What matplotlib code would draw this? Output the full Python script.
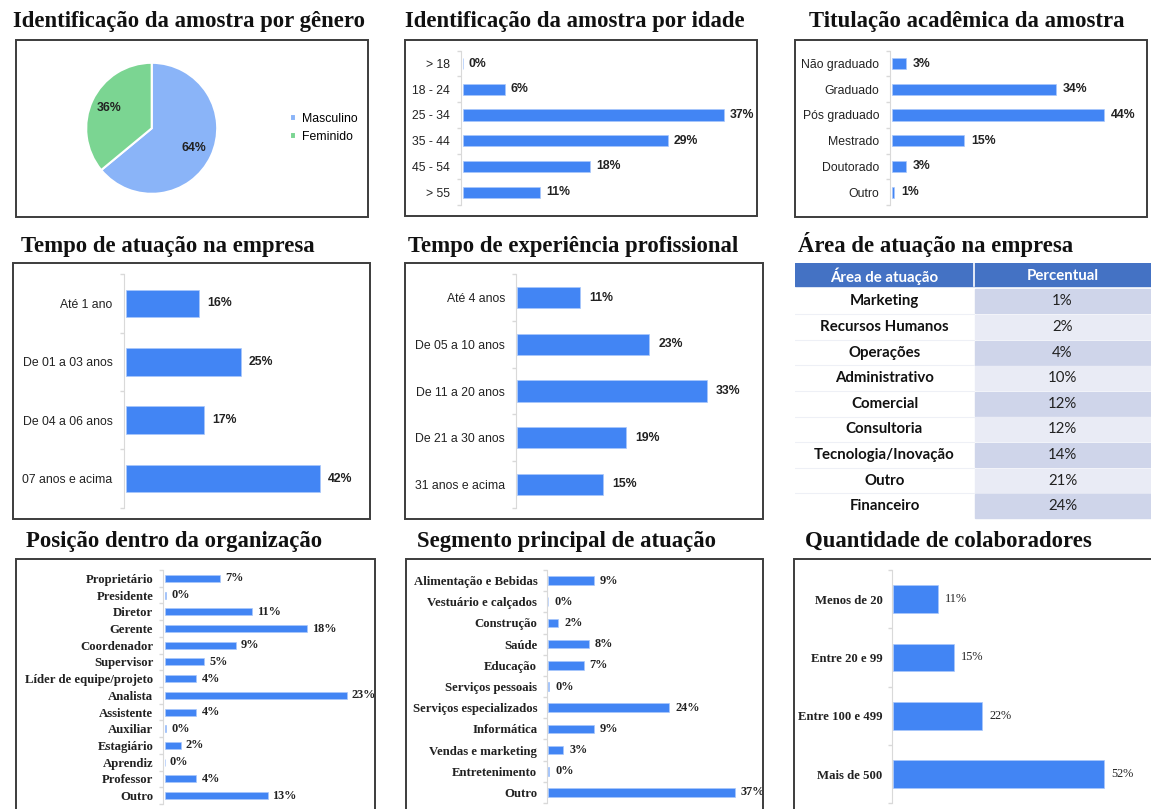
import matplotlib
matplotlib.use('Agg')
import matplotlib.pyplot as plt
from matplotlib.patches import Rectangle

W, H = 1151, 809
BLUE = '#4285f4'
GRID = '#d9d9d9'

# ---- data ----
genero_labels = ['Masculino', 'Feminido']
genero_vals = [64, 36]
genero_colors = ['#8ab4f8', '#7bd592']

idade_cats = ['> 18', '18 - 24', '25 - 34', '35 - 44', '45 - 54', '> 55']
idade_vals = [0, 6, 37, 29, 18, 11]

titulacao_cats = ['Não graduado', 'Graduado', 'Pós graduado', 'Mestrado', 'Doutorado', 'Outro']
titulacao_vals = [3, 34, 44, 15, 3, 0.6]

empresa_cats = ['Até 1 ano', 'De 01 a 03 anos', 'De 04 a 06 anos', '07 anos e acima']
empresa_vals = [16, 25, 17, 42]

experiencia_cats = ['Até 4 anos', 'De 05 a 10 anos', 'De 11 a 20 anos', 'De 21 a 30 anos', '31 anos e acima']
experiencia_vals = [11, 23, 33, 19, 15]

area_header = ['Área de atuação', 'Percentual']
area_cats = ['Marketing', 'Recursos Humanos', 'Operações', 'Administrativo', 'Comercial',
             'Consultoria', 'Tecnologia/Inovação', 'Outro', 'Financeiro']
area_vals = [1, 2, 4, 10, 12, 12, 14, 21, 24]

posicao_cats = ['Proprietário', 'Presidente', 'Diretor', 'Gerente', 'Coordenador', 'Supervisor',
                'Líder de equipe/projeto', 'Analista', 'Assistente', 'Auxiliar', 'Estagiário',
                'Aprendiz', 'Professor', 'Outro']
posicao_vals = [7, 0.2, 11, 18, 9, 5, 4, 23, 4, 0.2, 2, 0, 4, 13]

segmento_cats = ['Alimentação e Bebidas', 'Vestuário e calçados', 'Construção', 'Saúde', 'Educação',
                 'Serviços pessoais', 'Serviços especializados', 'Informática', 'Vendas e marketing',
                 'Entretenimento', 'Outro']
segmento_vals = [9, 0, 2, 8, 7, 0.2, 24, 9, 3, 0.2, 37]

colab_cats = ['Menos de 20', 'Entre 20 e 99', 'Entre 100 e 499', 'Mais de 500']
colab_vals = [11, 15, 22, 52]

titles = [
    (12.7, 27, 'Identificação da amostra por gênero'),
    (405, 27, 'Identificação da amostra por idade'),
    (809, 27, 'Titulação acadêmica da amostra'),
    (20.7, 251.7, 'Tempo de atuação na empresa'),
    (407.7, 251.7, 'Tempo de experiência profissional'),
    (798.3, 251.7, 'Área de atuação na empresa'),
    (26, 546.5, 'Posição dentro da organização'),
    (416.7, 546.5, 'Segmento principal de atuação'),
    (805, 546.5, 'Quantidade de colaboradores'),
]

frames = [(16, 40, 368, 217), (405, 40, 757, 216), (795, 40, 1147, 217),
          (13, 263, 370, 519), (405, 263, 763, 519),
          (16, 559, 375, 815), (406, 559, 763, 815), (794, 559, 1160, 815)]

SANS = 'Liberation Sans'
SERIF = 'Liberation Serif'
TABLE = 'Lato'

fig = plt.figure(figsize=(W / 100, H / 100), dpi=100)


def add_ax(x0, y0, x1, y1):
    return fig.add_axes([x0 / W, 1 - y1 / H, (x1 - x0) / W, (y1 - y0) / H])


def bar_panel(cats, vals, axis_x, y_top, y_bot, ppx, right, height,
              tick_font, val_font, label_gap, val_gap):
    ax = add_ax(axis_x, y_top, right, y_bot)
    n = len(cats)
    off = 1.5 / ppx
    ax.set_xlim(-off, (right - axis_x) / ppx - off)
    ax.set_ylim(n - 0.5, -0.5)
    ax.barh(range(n), vals, height=height, color=BLUE, edgecolor='#a9c8fb', linewidth=0.5)
    ax.set_yticks(range(n))
    ax.set_yticklabels(cats, **tick_font)
    ax.tick_params(axis='y', which='major', length=0, pad=label_gap * 0.72)
    ax.set_yticks([i - 0.5 for i in range(n + 1)], minor=True)
    ax.tick_params(axis='y', which='minor', length=3, color=GRID, width=1)
    ax.set_xticks([])
    for s in ['top', 'right', 'bottom']:
        ax.spines[s].set_visible(False)
    ax.spines['left'].set_color(GRID)
    ax.patch.set_alpha(0)
    for i, v in enumerate(vals):
        ax.text(v + val_gap / ppx, i, f'{v:.0f}%', va='center', ha='left', **val_font)
    return ax


# frames
for x0, y0, x1, y1 in frames:
    fig.add_artist(Rectangle((x0 / W, 1 - y1 / H), (x1 - x0) / W, (y1 - y0) / H,
                             transform=fig.transFigure, fill=False,
                             edgecolor='#3c3c3c', linewidth=1.4))

# titles
for x, y, t in titles:
    fig.text(x / W, 1 - y / H, t, family=SERIF, weight='bold', fontsize=16.4,
             ha='left', va='baseline', color='#111111')

# pie
cx, cy, r = 151.7, 128.3, 65.5
axp = add_ax(cx - r, cy - r, cx + r, cy + r)
wedges, _, autotexts = axp.pie(genero_vals, colors=genero_colors, startangle=90,
                               counterclock=False, autopct='%d%%', pctdistance=0.72,
                               wedgeprops=dict(edgecolor='white', linewidth=1.5),
                               textprops=dict(family=SANS, weight='bold', fontsize=8.8, color='#222222'))
axp.set_xlim(-1, 1)
axp.set_ylim(-1, 1)
axp.axis('off')
fig.legend(wedges, genero_labels, loc='center left',
           bbox_to_anchor=(290 / W, 1 - 128 / H), frameon=False,
           prop=dict(family=SANS, size=8.8), handlelength=0.5, handleheight=0.5,
           handletextpad=0.5, labelspacing=0.5, borderaxespad=0, borderpad=0)

sans_tick = dict(family=SANS, fontsize=8.8, color='#222222')
sans_val = dict(family=SANS, fontsize=8.8, weight='bold', color='#222222')
serif_tick = dict(family=SERIF, fontsize=9.2, weight='bold', color='#222222')
serif_val = dict(family=SERIF, fontsize=8.8, weight='bold', color='#222222')
serif_val_light = dict(family=SERIF, fontsize=8.8, color='#222222')

bar_panel(idade_cats, idade_vals, 461, 50.7, 205, 7.07, 745, 0.43, sans_tick, sans_val, 11, 6)
bar_panel(titulacao_cats, titulacao_vals, 890, 50.7, 205, 4.83, 1140, 0.43, sans_tick, sans_val, 10.7, 7)
bar_panel(empresa_cats, empresa_vals, 124, 274.3, 507.7, 4.62, 365, 0.47, sans_tick, sans_val, 11.3, 8)
bar_panel(experiencia_cats, experiencia_vals, 515.7, 274.3, 507.7, 5.75, 755, 0.45, sans_tick, sans_val, 10.7, 9)
bar_panel(posicao_cats, posicao_vals, 163.3, 570, 804, 7.9, 372, 0.42, serif_tick, serif_val, 10, 5)
bar_panel(segmento_cats, segmento_vals, 546.7, 570, 803, 5.05, 760, 0.41, serif_tick, serif_val, 9.4, 6)
bar_panel(colab_cats, colab_vals, 891.7, 570, 803.3, 4.05, 1150, 0.47, serif_tick, serif_val_light, 9, 7)

# table
axt = add_ax(795, 263, 1151, 521)
axt.set_xlim(795, 1151)
axt.set_ylim(521, 263)
axt.axis('off')
split = 974
axt.add_patch(Rectangle((795, 263), 356, 23, color='#4472c4'))
axt.plot([split, split], [263, 286], color='white', lw=1.2)
axt.text((795 + split) / 2, 276, area_header[0], ha='center', va='center',
         family=TABLE, weight='bold', fontsize=10.8, color='white')
axt.text((split + 1151) / 2, 276, area_header[1], ha='center', va='center',
         family=TABLE, weight='bold', fontsize=10.8, color='white')
row_top, row_h = 288.5, 25.6
for i, (cat, val) in enumerate(zip(area_cats, area_vals)):
    y0 = row_top + i * row_h
    shade = '#cfd5ea' if i % 2 == 0 else '#e9ebf5'
    axt.add_patch(Rectangle((split + 1, y0 + 0.8), 1151 - split - 1, row_h - 1.6, color=shade))
    if i > 0:
        axt.plot([795, split], [y0, y0], color='#eef0f6', lw=0.8)
    axt.text((795 + split) / 2, y0 + row_h / 2, cat, ha='center', va='center',
             family=TABLE, weight='bold', fontsize=10.8, color='#111111')
    axt.text((split + 1151) / 2, y0 + row_h / 2, f'{val}%', ha='center', va='center',
             family=TABLE, fontsize=10.8, color='#222222')

fig.savefig('out.png', dpi=100)
